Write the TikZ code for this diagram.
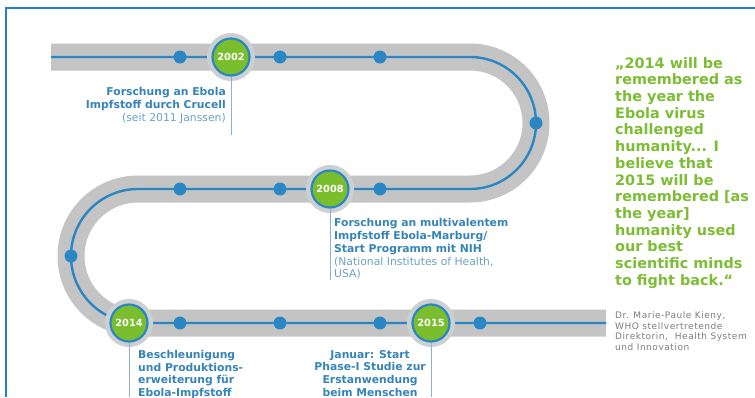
\documentclass[tikz,border=0pt]{standalone}
\usepackage{fontspec}
\setmainfont{DejaVu Sans}
\newfontfamily\attrfont[LetterSpace=6]{DejaVu Sans}
\usetikzlibrary{positioning}
\definecolor{trackgray}{RGB}{196,196,196}
\definecolor{halogray}{RGB}{204,208,210}
\definecolor{railblue}{RGB}{42,135,196}
\definecolor{yeargreen}{RGB}{122,190,45}
\definecolor{textblue}{RGB}{52,132,184}
\definecolor{paleblue}{RGB}{110,160,196}
\definecolor{leadblue}{RGB}{140,178,204}
\definecolor{quotegreen}{RGB}{124,189,52}
\definecolor{framblue}{RGB}{30,127,216}
\definecolor{attrgray}{RGB}{125,125,125}

\begin{document}
\begin{tikzpicture}[x=1pt, y=-1pt,
  every node/.style={inner sep=0pt},
  stop/.style={circle, fill=railblue, minimum size=13pt},
  year/.style={circle, fill=yeargreen, draw=railblue, line width=2.2pt, minimum size=37pt,
    text=white, font=\bfseries\fontsize{9.8}{10}\selectfont,
    preaction={draw=halogray, fill=halogray, line width=11pt}},
  leader/.style={draw=leadblue, line width=0.9pt},
  event/.style={font=\bfseries\fontsize{10.8}{12.7}\selectfont, text=textblue},
  quote/.style={font=\bfseries\fontsize{14.4}{16.7}\selectfont, text=quotegreen, align=left},
  attr/.style={font=\attrfont\fontsize{9}{10.7}\selectfont, text=attrgray, align=left}
]
\useasboundingbox (0,0) rectangle (755,397);
% Frame
\draw[framblue, line width=2pt] (6,397) -- (6,8) -- (755,8);
% Track with rail
\path[draw=railblue, line width=2.4pt, preaction={draw=trackgray, line width=27pt}]
  (51,57) -- (470,57) arc[start angle=-90, end angle=90, radius=66]
  -- (138,189) arc[start angle=-90, end angle=-270, radius=67] -- (606,323);
% Stops along the rail
\foreach \x/\y [count=\i] in {180/57, 280/57, 380/57, 536/123, 380/189, 280/189,
    180/189, 71/256, 180/323, 280/323, 380/323, 480/323}
  \node[stop] (s\i) at (\x,\y) {};
% Leader ends
\coordinate (l2002) at (231,135);
\coordinate (l2008) at (330,280);
\coordinate (l2014) at (129,397);
\coordinate (l2015) at (431,397);
% Milestones
\node[year] (y2002) at (231,57) {2002};
\node[year] (y2008) at (330,189) {2008};
\node[year] (y2014) at (129,323) {2014};
\node[year] (y2015) at (431,323) {2015};
\foreach \y in {2002,2008,2014,2015}
  \draw[leader] (y\y.south) -- (l\y);
% Event texts
\node[event, anchor=north east, align=right] (t2002) at (226,87.5)
  {Forschung an Ebola\\Impfstoff durch Crucell\\{\mdseries\color{paleblue}(seit 2011 Janssen)}};
\node[event, anchor=north west, align=left] (t2008) at (334,218.5)
  {Forschung an multivalentem\\Impfstoff Ebola-Marburg/\\Start Programm mit NIH\\
   {\mdseries\color{paleblue}(National Institutes of Health,}\\{\mdseries\color{paleblue}USA)}};
\node[event, anchor=north west, align=left] (t2014) at (138,350)
  {Beschleunigung\\und Produktions-\\erweiterung für\\Ebola-Impfstoff};
\node[event, anchor=north east, align=center] (t2015) at (426,350)
  {Januar: Start\\Phase-I Studie zur\\Erstanwendung\\beim Menschen};
% Quote
\node[quote, anchor=north west] (quote) at (615,57)
  {„2014 will be\\remembered as\\the year the\\Ebola virus\\challenged\\humanity... I\\believe that\\2015 will be\\remembered [as\\the year]\\humanity used\\our best\\scientific minds\\to fight back.“};
\node[attr, anchor=north west] (author) at (615,311.5)
  {Dr. Marie-Paule Kieny,\\WHO stellvertretende\\Direktorin,\ \ Health System\\und Innovation};
\end{tikzpicture}
\end{document}
